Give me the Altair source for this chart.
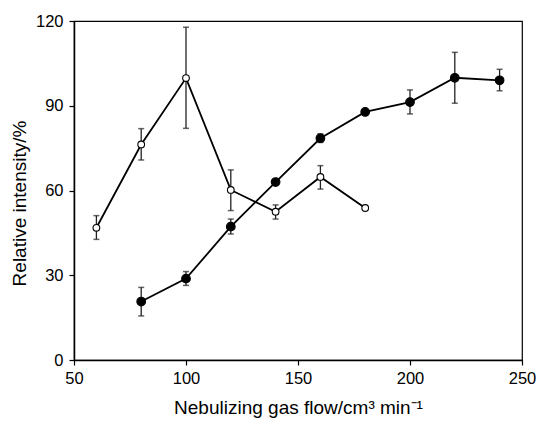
import altair as alt
import pandas as pd

x_open = [60, 80, 100, 120, 140, 160, 180]
y_open = [46.8, 76.3, 99.8, 60.2, 52.5, 64.8, 53.8]
lo_open = [42.7, 70.8, 82.0, 52.9, 49.9, 60.5, 53.2]
hi_open = [51.1, 81.9, 117.8, 67.3, 54.9, 68.8, 54.4]

x_fill = [80, 100, 120, 140, 160, 180, 200, 220, 240]
y_fill = [20.7, 28.8, 47.2, 63.0, 78.5, 87.8, 91.3, 99.9, 99.0]
lo_fill = [15.6, 26.4, 44.6, 62.3, 77.0, 87.2, 87.1, 90.9, 95.3]
hi_fill = [25.7, 31.3, 49.9, 63.7, 80.0, 88.4, 95.6, 108.9, 102.9]

df_open = pd.DataFrame({"x": x_open, "y": y_open, "lo": lo_open, "hi": hi_open})
df_fill = pd.DataFrame({"x": x_fill, "y": y_fill, "lo": lo_fill, "hi": hi_fill})

xs = alt.Scale(domain=[50, 250], nice=False)
ys = alt.Scale(domain=[0, 120], nice=False)

X = alt.X("x:Q", scale=xs, axis=alt.Axis(values=[50, 100, 150, 200, 250],
                                         title="Nebulizing gas flow/cm³ min⁻¹",
                                         titlePadding=12, labelPadding=5))
Y = alt.Y("y:Q", scale=ys, axis=alt.Axis(values=[0, 30, 60, 90, 120],
                                         title="Relative intensity/%",
                                         titlePadding=6, labelPadding=6, titleY=182))

def layers(df, filled):
    base = alt.Chart(df)
    line = base.mark_line(color="black", strokeWidth=1.8).encode(x=X, y=Y)
    rule = base.mark_rule(color="#222", strokeWidth=1.3).encode(x=X, y=alt.Y("lo:Q", scale=ys), y2="hi:Q")
    cap_lo = base.mark_tick(color="#222", orient="horizontal", size=6, thickness=1.5).encode(x=X, y=alt.Y("lo:Q", scale=ys))
    cap_hi = base.mark_tick(color="#222", orient="horizontal", size=6, thickness=1.5).encode(x=X, y=alt.Y("hi:Q", scale=ys))
    pts = base.mark_point(
        shape="circle", filled=True,
        fill="black" if filled else "white",
        stroke="black", strokeWidth=1.1, opacity=1,
        size=75 if filled else 45,
    ).encode(x=X, y=Y)
    return [line, rule, cap_lo, cap_hi, pts]

chart = alt.layer(*(layers(df_open, False) + layers(df_fill, True))).properties(
    width=448, height=339,
    autosize=alt.AutoSizeParams(type="none"),
    padding={"left": 66, "top": 13, "right": 14, "bottom": 58},
).configure_view(stroke="black", strokeWidth=1.2).configure_axis(
    grid=False,
    domainColor="black", domainWidth=1.5,
    tickColor="black", tickSize=5, tickWidth=1.2,
    labelFont="Liberation Sans", labelFontSize=16.5, labelColor="black", labelFlush=False,
    titleFont="Liberation Sans", titleFontSize=19, titleFontWeight="normal", titleColor="black",
)

chart.save("out.html", embed_options={"renderer": "svg", "actions": False})
